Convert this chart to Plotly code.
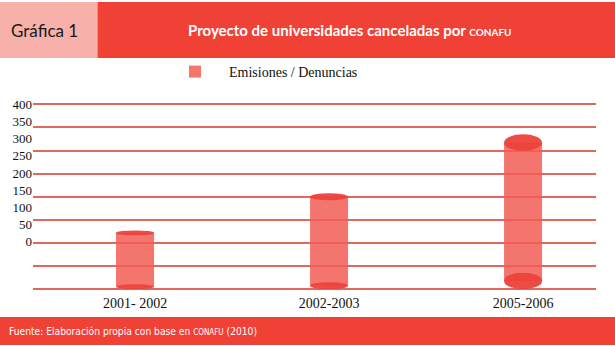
import plotly.graph_objects as go

# ---- data ----
categories = ["2001- 2002", "2002-2003", "2005-2006"]
values = [122, 200, 317]
series_name = "Emisiones / Denuncias"
ytick_vals = [0, 50, 100, 150, 200, 250, 300, 350, 400]
ytick_text = ["0", "50", "100", "150", "200", "250", "300", "350", "400"]
title_text = "Proyecto de universidades canceladas por <span style='font-size:10px'>CONAFU</span>"
label_text = "Gráfica 1"
source_text = "Fuente: Elaboración propia con base en <span style='font-size:8px'>CONAFU</span> (2010)"

# ---- style ----
W, H = 615, 346
RED = "#EF4136"
PINK = "#F7B0AA"
GRID = "#E2675D"
BAR = "rgba(242,94,86,0.86)"
CAP = "rgba(236,66,58,0.95)"
bar_width = 0.196
cap_depth = [5.4, 7.6, 18.0]  # half-height of the cylinder ellipses (data units)

def py(px):
    return 1 - px / H

def pxx(px):
    return px / W

fig = go.Figure()

bases = cap_depth
fig.add_trace(go.Bar(
    x=categories, y=[v - b for v, b in zip(values, bases)], base=bases,
    width=bar_width, marker=dict(color=BAR, line=dict(width=0)),
    name="\u00a0\u00a0\u00a0\u00a0" + series_name, showlegend=True,
    hoverinfo="skip",
))
# invisible trace for secondary axis labels
fig.add_trace(go.Scatter(x=[categories[0]], y=[0], yaxis="y2", mode="markers",
                         marker=dict(opacity=0), showlegend=False, hoverinfo="skip"))

shapes = []
for i, (v, d) in enumerate(zip(values, cap_depth)):
    for yc in (v, d):
        shapes.append(dict(type="circle", xref="x", yref="y",
                           x0=i - bar_width / 2, x1=i + bar_width / 2,
                           y0=yc - d, y1=yc + d,
                           fillcolor=CAP, line=dict(width=0), layer="above"))

# header and footer blocks
shapes += [
    dict(type="rect", xref="paper", yref="paper", x0=0, x1=pxx(97.5), y0=py(58), y1=py(2),
         fillcolor=PINK, line=dict(width=0), layer="below"),
    dict(type="rect", xref="paper", yref="paper", x0=pxx(97.5), x1=1, y0=py(58), y1=py(2),
         fillcolor=RED, line=dict(width=0), layer="below"),
    dict(type="rect", xref="paper", yref="paper", x0=0, x1=1, y0=py(345), y1=py(317),
         fillcolor=RED, line=dict(width=0), layer="below"),
]

annotations = [
    dict(text=label_text, xref="paper", yref="paper", x=pxx(9), y=py(30),
         xanchor="left", yanchor="middle", showarrow=False,
         font=dict(family="Lato", size=17, color="#1a1a1a")),
    dict(text="<b>" + title_text + "</b>", xref="paper", yref="paper", x=pxx(349), y=py(30),
         xanchor="center", yanchor="middle", showarrow=False,
         font=dict(family="Lato", size=15, color="white")),
    dict(text=source_text, xref="paper", yref="paper", x=pxx(7), y=py(331),
         xanchor="left", yanchor="middle", showarrow=False,
         font=dict(family="DejaVu Sans Condensed", size=10.2, color="white")),
]

# pixel geometry of the plot area
px_400, px_0 = 104.3, 289.3          # where values 400 and 0 sit
plot_top = 100.0                      # leave a little room so the 400 grid line shows
ppu_main = (px_0 - px_400) / 400
y_hi = 400 + (px_400 - plot_top) / ppu_main

# secondary label scale: label 0 at 241.7px, label 400 at 104.3px
lab0, lab400 = 241.7, 104.3
ppu = (lab0 - lab400) / 400
y2_lo = -(px_0 - lab0) / ppu
y2_hi = (lab0 - plot_top) / ppu

fig.update_layout(
    width=W, height=H, autosize=False,
    margin=dict(l=0, r=0, t=0, b=0, pad=0, autoexpand=False),
    paper_bgcolor="white", plot_bgcolor="white",
    shapes=shapes, annotations=annotations,
    xaxis=dict(domain=[pxx(33), pxx(596)], range=[-0.526, 2.376], type="category",
               showgrid=False, showline=False, zeroline=False, ticks="", automargin=False,
               tickfont=dict(family="Liberation Serif", size=14, color="#111"),
               ticklabelstandoff=4),
    yaxis=dict(domain=[py(px_0), py(plot_top)], range=[0, y_hi], automargin=False,
               tickvals=ytick_vals, showticklabels=False,
               showgrid=True, gridcolor=GRID, gridwidth=2,
               zeroline=True, zerolinecolor=GRID, zerolinewidth=2, showline=False),
    yaxis2=dict(overlaying="y", side="left", anchor="x", range=[y2_lo, y2_hi],
                automargin=False,
                tickvals=ytick_vals, ticktext=ytick_text, showgrid=False,
                zeroline=False, showline=False, ticks="",
                tickfont=dict(family="Liberation Serif", size=13, color="#111")),
    legend=dict(x=pxx(175), y=py(72), xanchor="left", yanchor="middle",
                font=dict(family="Liberation Serif", size=14, color="#111"),
                bgcolor="rgba(0,0,0,0)"),
    showlegend=True,
)

fig.write_html(
    "out.html",
    config={"displayModeBar": False},
    post_script="document.body.style.margin='0';document.body.style.padding='0';"
                "var d=document.getElementsByClassName('plotly-graph-div')[0];"
                "d.style.position='fixed';d.style.left='0px';d.style.top='0px';",
)
